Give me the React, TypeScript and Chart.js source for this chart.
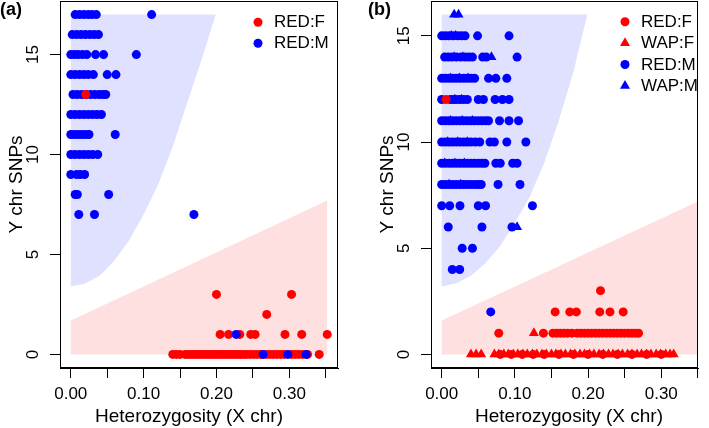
import React, { useEffect, useRef, useState } from 'react';
import { Chart, registerables } from 'chart.js';

Chart.register(...registerables);

type Row = [number, number[]];
type Pt = [number, number];

// ---------- shared axis ticks ----------
const xTicks = [0, 0.05, 0.1, 0.15, 0.2, 0.25, 0.3, 0.35];
const xTickLabels = ['0.00', '', '0.10', '', '0.20', '', '0.30', ''];
const yTicks = [0, 5, 10, 15];
const yTickLabels = ['0', '5', '10', '15'];
const xTitle = 'Heterozygosity (X chr)';
const yTitle = 'Y chr SNPs';

// ---------- panel (a) data ----------
const aRedM: Row[] = [
  [17, [0.006, 0.012, 0.018, 0.024, 0.029, 0.035, 0.111]],
  [16, [0.002, 0.008, 0.014, 0.02, 0.026, 0.032, 0.038]],
  [15, [0.0, 0.005, 0.01, 0.016, 0.022, 0.034, 0.045, 0.09]],
  [14, [0.0, 0.006, 0.012, 0.018, 0.024, 0.031, 0.05, 0.062]],
  [13, [0.003, 0.009, 0.015, 0.021, 0.027, 0.033, 0.039, 0.044, 0.048]],
  [12, [0.0, 0.006, 0.012, 0.018, 0.024, 0.03, 0.036, 0.042]],
  [11, [0.0, 0.005, 0.01, 0.015, 0.02, 0.025, 0.061]],
  [10, [0.0, 0.006, 0.012, 0.018, 0.024, 0.03, 0.037]],
  [9, [0.0, 0.008, 0.013, 0.019]],
  [8, [0.006, 0.009, 0.052]],
  [7, [0.011, 0.0325, 0.169]],
  [1, [0.227]],
  [0, [0.264, 0.298, 0.323]],
];
const aRedF: Row[] = [
  [3, [0.2, 0.303]],
  [2, [0.269]],
  [1, [0.205, 0.2166, 0.232, 0.247, 0.253, 0.294, 0.317, 0.352]],
  [0, [0.14, 0.145, 0.15, 0.157, 0.161, 0.165, 0.169, 0.173, 0.177, 0.181, 0.185, 0.189, 0.193, 0.197,
       0.201, 0.205, 0.209, 0.213, 0.217, 0.221, 0.225, 0.229, 0.233, 0.237, 0.241, 0.246, 0.251, 0.256,
       0.261, 0.268, 0.273, 0.278, 0.283, 0.288, 0.293, 0.303, 0.308, 0.313, 0.318, 0.325, 0.341]],
];
const aRedFTop: Row[] = [[13, [0.0206]]];
const aBlueRegion: Pt[] = [
  [0, 17], [0.199, 17], [0.18, 14.8], [0.16, 12.6], [0.14, 10.4], [0.12, 8.5], [0.1, 7.0],
  [0.08, 5.7], [0.06, 4.7], [0.04, 3.95], [0.02, 3.55], [0, 3.4],
];
const aPinkRegion: Pt[] = [[0, 0], [0, 1.7], [0.352, 7.7], [0.352, 0]];

// ---------- panel (b) data ----------
const bRedM: Row[] = [
  [15, [0.0, 0.005, 0.01, 0.016, 0.022, 0.027, 0.032, 0.049, 0.092]],
  [14, [0.004, 0.009, 0.014, 0.02, 0.026, 0.032, 0.037, 0.042, 0.056, 0.061, 0.103]],
  [13, [0.0, 0.005, 0.01, 0.015, 0.02, 0.025, 0.03, 0.035, 0.04, 0.045, 0.064, 0.074, 0.089]],
  [12, [0.0, 0.012, 0.016, 0.02, 0.025, 0.03, 0.035, 0.05, 0.057, 0.073, 0.083, 0.092]],
  [11, [0.0, 0.005, 0.01, 0.015, 0.02, 0.025, 0.03, 0.035, 0.04, 0.045, 0.05, 0.055, 0.06, 0.064, 0.079, 0.092, 0.105]],
  [10, [0.0, 0.005, 0.01, 0.015, 0.02, 0.025, 0.03, 0.035, 0.04, 0.046, 0.052, 0.066, 0.072, 0.089, 0.115]],
  [9, [0.0, 0.005, 0.01, 0.015, 0.02, 0.025, 0.03, 0.035, 0.04, 0.045, 0.05, 0.055, 0.059, 0.074, 0.08, 0.097, 0.103]],
  [8, [0.0, 0.005, 0.01, 0.015, 0.02, 0.025, 0.03, 0.035, 0.04, 0.045, 0.05, 0.054, 0.077, 0.107]],
  [7, [0.0, 0.011, 0.025, 0.05, 0.06, 0.124]],
  [6, [0.009, 0.055, 0.096]],
  [5, [0.028, 0.042]],
  [4, [0.0145, 0.0246]],
  [2, [0.067]],
];
const bWapM: Row[] = [
  [16, [0.017, 0.023]],
  [15, [0.013, 0.019]],
  [14, [0.017, 0.029, 0.068]],
  [13, [0.012, 0.024, 0.036]],
  [12, [0.018, 0.027]],
  [11, [0.012, 0.028, 0.042]],
  [10, [0.008, 0.022, 0.035]],
  [9, [0.004, 0.018, 0.031]],
  [8, [0.01, 0.026]],
  [6, [0.103]],
];
const bRedF: Row[] = [
  [3, [0.217]],
  [2, [0.155, 0.175, 0.184, 0.216, 0.23, 0.248]],
  [1, [0.078, 0.139, 0.152, 0.157, 0.162, 0.167, 0.172, 0.178, 0.185, 0.19, 0.195, 0.2, 0.205, 0.21,
       0.215, 0.22, 0.225, 0.23, 0.235, 0.24, 0.245, 0.25, 0.255, 0.26, 0.265, 0.269]],
  [0, [0.08, 0.095, 0.11, 0.125, 0.14, 0.16, 0.18, 0.2, 0.22, 0.24, 0.26, 0.28, 0.3]],
];
const bWapF: Row[] = [
  [1, [0.126]],
  [0, [0.04, 0.047, 0.054, 0.072, 0.078, 0.085, 0.091, 0.098, 0.104, 0.111, 0.117, 0.124, 0.13,
       0.137, 0.143, 0.15, 0.156, 0.163, 0.169, 0.176, 0.182, 0.189, 0.195, 0.202, 0.208, 0.215,
       0.221, 0.228, 0.234, 0.241, 0.247, 0.254, 0.26, 0.267, 0.273, 0.28, 0.286, 0.293, 0.299,
       0.306, 0.312, 0.317]],
];
const bRedFTop: Row[] = [[12, [0.006]]];
const bBlueRegion: Pt[] = [
  [0, 16], [0.199, 16], [0.18, 13.3], [0.16, 11.0], [0.14, 9.0], [0.12, 7.4], [0.1, 6.2],
  [0.08, 5.1], [0.06, 4.3], [0.04, 3.7], [0.02, 3.35], [0, 3.2],
];
const bPinkRegion: Pt[] = [[0, 0], [0, 1.6], [0.35, 7.2], [0.35, 0]];

// ---------- styling ----------
const FONT = '"Liberation Sans", Arial, Helvetica, sans-serif';
const RED = '#ff0000';
const BLUE = '#0000ff';
const BLUE_FILL = 'rgba(0,0,255,0.12)';
const PINK_FILL = 'rgba(255,0,0,0.12)';
const CIRCLE_R = 4.5;
const TRI_R = 5.8;

const toPts = (rows: Row[]) => rows.flatMap(([y, xs]) => xs.map((x) => ({ x, y })));

function ds(label: string, rows: Row[], color: string, shape: 'circle' | 'triangle', order: number) {
  return {
    label,
    data: toPts(rows),
    backgroundColor: color,
    borderColor: color,
    borderWidth: 0,
    pointStyle: shape,
    pointRadius: shape === 'circle' ? CIRCLE_R : TRI_R,
    order,
  };
}

interface PanelSpec {
  left: number;
  width: number;
  padLeft: number;
  padRight: number;
  xMin: number;
  xMax: number;
  yMin: number;
  yMax: number;
  datasets: any[];
  legend: string[];
  legendX: number;
  legendY: number;
  legendStep: number;
  tag: string;
  tagX: number;
  xTitleCenter: number;
  regions: { pts: Pt[]; color: string }[];
}

const panels: PanelSpec[] = [
  {
    left: 0, width: 354, padLeft: 0, padRight: 16,
    xMin: -0.0148, xMax: 0.3668, yMin: -0.68, yMax: 17.68,
    datasets: [
      ds('RED:F top', aRedFTop, RED, 'circle', 0),
      ds('RED:M', aRedM, BLUE, 'circle', 1),
      ds('RED:F', aRedF, RED, 'circle', 2),
    ],
    legend: ['RED:F', 'RED:M'],
    legendX: 258, legendY: 22.3, legendStep: 21,
    tag: '(a)', tagX: 0, xTitleCenter: 189,
    regions: [{ pts: aBlueRegion, color: BLUE_FILL }, { pts: aPinkRegion, color: PINK_FILL }],
  },
  {
    left: 354, width: 355, padLeft: 17, padRight: 11,
    xMin: -0.0146, xMax: 0.3502, yMin: -0.64, yMax: 16.64,
    datasets: [
      ds('RED:F top', bRedFTop, RED, 'circle', 0),
      ds('RED:M', bRedM, BLUE, 'circle', 1),
      ds('WAP:M', bWapM, BLUE, 'triangle', 2),
      ds('WAP:F', bWapF, RED, 'triangle', 3),
      ds('RED:F', bRedF, RED, 'circle', 4),
    ],
    legend: ['RED:F', 'WAP:F', 'RED:M', 'WAP:M'],
    legendX: 271, legendY: 21.7, legendStep: 21.4,
    tag: '(b)', tagX: 14, xTitleCenter: 215,
    regions: [{ pts: bBlueRegion, color: BLUE_FILL }, { pts: bPinkRegion, color: PINK_FILL }],
  },
];

function drawMarker(ctx: CanvasRenderingContext2D, shape: string, x: number, y: number, color: string) {
  ctx.fillStyle = color;
  ctx.beginPath();
  if (shape === 'triangle') {
    let a = 0;
    ctx.moveTo(x + Math.sin(a) * TRI_R, y - Math.cos(a) * TRI_R);
    a += (2 * Math.PI) / 3;
    ctx.lineTo(x + Math.sin(a) * TRI_R, y - Math.cos(a) * TRI_R);
    a += (2 * Math.PI) / 3;
    ctx.lineTo(x + Math.sin(a) * TRI_R, y - Math.cos(a) * TRI_R);
    ctx.closePath();
  } else {
    ctx.arc(x, y, CIRCLE_R, 0, Math.PI * 2);
  }
  ctx.fill();
}

function drawFrame(chart: any) {
  const { ctx, chartArea } = chart;
  const l = Math.round(chartArea.left);
  const r = Math.round(chartArea.right);
  const t = Math.round(chartArea.top);
  const b = Math.round(chartArea.bottom);
  ctx.save();
  ctx.fillStyle = '#000';
  ctx.fillRect(l, t, r - l, 1);
  ctx.fillRect(r - 1, t, 1, b - t);
  ctx.fillRect(l, t, 1, b - t);
  ctx.fillRect(l, b - 1, r - l, 1);
  ctx.restore();
}

function makeConfig(spec: PanelSpec): any {
  const regionPlugin = {
    id: 'regions',
    beforeDatasetsDraw(chart: any) {
      const { ctx, scales } = chart;
      ctx.save();
      for (const reg of spec.regions) {
        ctx.beginPath();
        reg.pts.forEach(([x, y], i) => {
          const px = scales.x.getPixelForValue(x);
          const py = scales.y.getPixelForValue(y);
          if (i === 0) ctx.moveTo(px, py);
          else ctx.lineTo(px, py);
        });
        ctx.closePath();
        ctx.fillStyle = reg.color;
        ctx.fill();
      }
      ctx.restore();
    },
  };

  const decorPlugin = {
    id: 'decor',
    afterDraw(chart: any) {
      const { ctx, chartArea, scales } = chart;
      drawFrame(chart);
      ctx.save();
      ctx.fillStyle = '#000';
      ctx.font = `17px ${FONT}`;
      ctx.textAlign = 'center';
      ctx.textBaseline = 'middle';
      scales.y.ticks.forEach((tk: any, i: number) => {
        const py = scales.y.getPixelForValue(tk.value);
        ctx.save();
        ctx.translate(chartArea.left - 27, py);
        ctx.rotate(-Math.PI / 2);
        ctx.fillText(yTickLabels[i], 0, 0);
        ctx.restore();
      });
      ctx.font = `19px ${FONT}`;
      ctx.fillText(xTitle, spec.xTitleCenter, 417);
      ctx.font = `17px ${FONT}`;
      ctx.textAlign = 'left';
      spec.legend.forEach((name, i) => {
        const d = chart.data.datasets.find((dd: any) => dd.label === name);
        const y = spec.legendY + i * spec.legendStep;
        drawMarker(ctx, d.pointStyle, spec.legendX, y, d.backgroundColor);
        ctx.fillStyle = '#000';
        ctx.fillText(name, spec.legendX + 16, y + 0.5);
      });
      ctx.font = `bold 18px ${FONT}`;
      ctx.textBaseline = 'alphabetic';
      ctx.fillText(spec.tag, spec.tagX, 15);
      ctx.restore();
    },
  };

  return {
    type: 'scatter',
    data: { datasets: spec.datasets },
    options: {
      animation: false,
      responsive: false,
      maintainAspectRatio: false,
      devicePixelRatio: 1,
      events: [],
      layout: { autoPadding: false, padding: { left: spec.padLeft, right: spec.padRight, top: 1, bottom: 0 } },
      plugins: { legend: { display: false }, tooltip: { enabled: false }, title: { display: false } },
      scales: {
        x: {
          type: 'linear',
          position: 'bottom',
          min: spec.xMin,
          max: spec.xMax,
          afterBuildTicks: (s: any) => {
            s.ticks = xTicks.map((v) => ({ value: v }));
          },
          afterFit: (s: any) => {
            s.height = 60;
          },
          ticks: {
            autoSkip: false,
            minRotation: 0,
            maxRotation: 0,
            padding: 6,
            color: '#000',
            font: { family: FONT, size: 17 },
            callback: (_v: any, i: number) => xTickLabels[i],
          },
          grid: { drawOnChartArea: false, drawTicks: true, tickLength: 10, color: '#000', lineWidth: 1 },
          border: { display: true, color: '#000', width: 1 },
          title: { display: false },
        },
        y: {
          type: 'linear',
          position: 'left',
          min: spec.yMin,
          max: spec.yMax,
          afterBuildTicks: (s: any) => {
            s.ticks = yTicks.map((v) => ({ value: v }));
          },
          afterFit: (s: any) => {
            s.width = 60;
          },
          ticks: { display: false },
          grid: { drawOnChartArea: false, drawTicks: true, tickLength: 10, color: '#000', lineWidth: 1 },
          border: { display: true, color: '#000', width: 1 },
          title: {
            display: true,
            text: yTitle,
            color: '#000',
            font: { family: FONT, size: 19, lineHeight: 1.2 },
            padding: { top: 5.6, bottom: 0 },
          },
        },
      },
    },
    plugins: [regionPlugin, decorPlugin],
  };
}

interface Box { l: number; t: number; w: number; h: number }

function Panel({ spec }: { spec: PanelSpec }) {
  const ref = useRef<HTMLCanvasElement>(null);
  const [box, setBox] = useState<Box | null>(null);
  useEffect(() => {
    const chart = new Chart(ref.current as HTMLCanvasElement, makeConfig(spec));
    const ca = chart.chartArea;
    const l = Math.round(ca.left);
    const t = Math.round(ca.top);
    setBox({ l, t, w: Math.round(ca.right) - l, h: Math.round(ca.bottom) - t });
    return () => chart.destroy();
  }, [spec]);
  return (
    <>
      <canvas
        ref={ref}
        width={spec.width}
        height={428}
        style={{ position: 'absolute', left: spec.left, top: 0, width: spec.width, height: 428 }}
      />
      {box && (
        <div
          style={{
            position: 'absolute',
            left: spec.left + box.l,
            top: box.t,
            width: box.w,
            height: box.h,
            border: '1px solid #000',
            boxSizing: 'border-box',
            pointerEvents: 'none',
          }}
        />
      )}
    </>
  );
}

export default function App() {
  return (
    <div style={{ position: 'fixed', left: 0, top: 0, width: 709, height: 428, background: '#fff', overflow: 'hidden' }}>
      {panels.map((p) => (
        <Panel key={p.tag} spec={p} />
      ))}
    </div>
  );
}
